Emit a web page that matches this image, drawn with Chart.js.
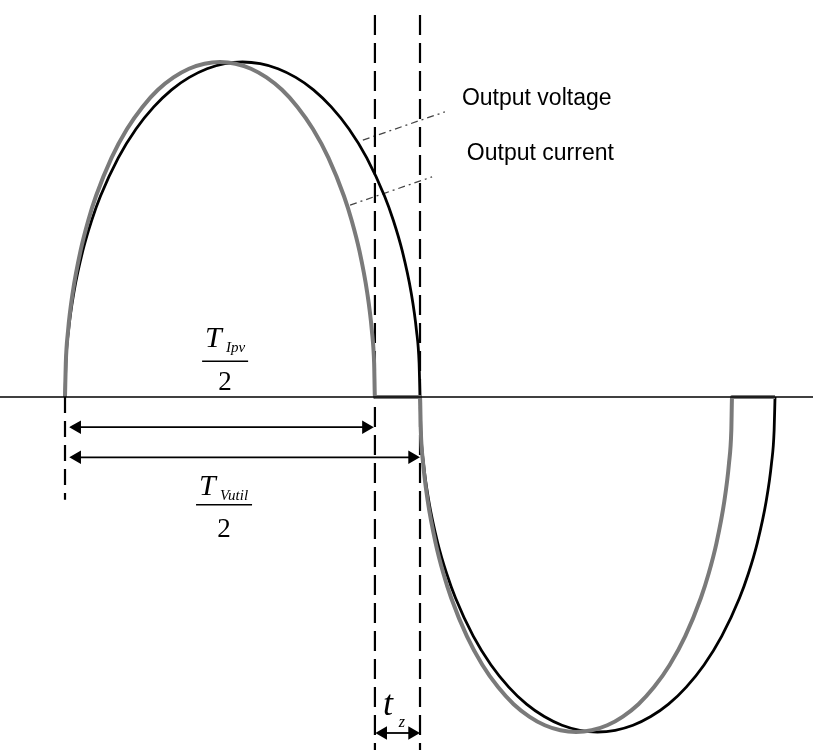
<!DOCTYPE html>
<html>
<head>
<meta charset="utf-8">
<script src="https://cdn.jsdelivr.net/npm/chart.js@4/dist/chart.umd.min.js"></script>
<style>
html,body{margin:0;padding:0;background:#fff;}
#wrap{width:813px;height:755px;}
</style>
</head>
<body>
<div id="wrap"><canvas id="c" width="813" height="755"></canvas></div>
<script>
// ---- time (normalised: voltage half period = 10) ----
const voltageTime = [0,0.025,0.1,0.25,0.5,0.75,1,1.5,2,2.5,3,3.5,4,4.5,5,5.5,6,6.5,7,7.5,8,8.5,9,9.25,9.5,9.75,9.9,9.975,
  10,10.025,10.1,10.25,10.5,10.75,11,11.5,12,12.5,13,13.5,14,14.5,15,15.5,16,16.5,17,17.5,18,18.5,19,19.25,19.5,19.75,19.9,19.975,20];
const voltageValue = [0,0.100,0.199,0.312,0.436,0.527,0.600,0.714,0.800,0.866,0.917,0.954,0.980,0.995,1,0.995,0.980,0.954,0.917,0.866,0.800,0.714,0.600,0.527,0.436,0.312,0.199,0.100,
  0,-0.100,-0.199,-0.312,-0.436,-0.527,-0.600,-0.714,-0.800,-0.866,-0.917,-0.954,-0.980,-0.995,-1,-0.995,-0.980,-0.954,-0.917,-0.866,-0.800,-0.714,-0.600,-0.527,-0.436,-0.312,-0.199,-0.100,0];
const currentTime = [0,0.022,0.087,0.218,0.437,0.655,0.873,1.310,1.746,2.183,2.619,3.056,3.492,3.929,4.365,4.802,5.238,5.675,6.111,6.548,6.984,7.421,7.857,8.075,8.294,8.512,8.643,8.708,8.73,
  10,10.022,10.088,10.220,10.440,10.659,10.879,11.319,11.758,12.198,12.637,13.077,13.516,13.956,14.395,14.835,15.274,15.714,16.153,16.593,17.032,17.472,17.911,18.131,18.351,18.571,18.703,18.769,18.79,20];
const currentValue = [0,0.100,0.199,0.312,0.436,0.527,0.600,0.714,0.800,0.866,0.917,0.954,0.980,0.995,1,0.995,0.980,0.954,0.917,0.866,0.800,0.714,0.600,0.527,0.436,0.312,0.199,0.100,0,
  0,-0.100,-0.199,-0.312,-0.436,-0.527,-0.600,-0.714,-0.800,-0.866,-0.917,-0.954,-0.980,-0.995,-1,-0.995,-0.980,-0.954,-0.917,-0.866,-0.800,-0.714,-0.600,-0.527,-0.436,-0.312,-0.199,-0.100,0,0];

// ---- reference markers (time / value) ----
const halfPeriodCurrent = 8.73;   // T_Ipv / 2
const halfPeriodVoltage = 10;     // T_Vutil / 2
const arrowIpv   = {from:0.34, to:8.48, level:-0.09};
const arrowVutil = {from:0.34, to:9.78, level:-0.18};
const arrowTz    = {from:8.96, to:9.78, level:-1.003};
const voltageLeader = [{x:8.39,y:0.767},{x:10.70,y:0.851}];
const currentLeader = [{x:8.03,y:0.573},{x:10.34,y:0.657}];
const labelTexts = {voltage:'Output voltage', current:'Output current', ipvSub:'Ipv', vutilSub:'Vutil', tz:'t', tzSub:'z'};

const xMin = -1.831, xMax = 21.07, yMin = -1.0687, yMax = 1.1851;

const pts = (xs, ys) => xs.map((x,i)=>({x, y:ys[i]}));
const arrow = a => [{x:a.from,y:a.level},{x:a.to,y:a.level}];

const textPlugin = {
  id:'texts',
  afterDatasetsDraw(chart){
    const ctx = chart.ctx, xs = chart.scales.x, ys = chart.scales.y;
    const px = v => xs.getPixelForValue(v), py = v => ys.getPixelForValue(v);
    ctx.save();
    ctx.fillStyle = '#000'; ctx.strokeStyle = '#000';
    ctx.font = '23px "Liberation Sans", Arial, sans-serif';
    ctx.textBaseline = 'alphabetic'; ctx.textAlign = 'left';
    ctx.fillText(labelTexts.voltage, px(11.18), py(0.872));
    ctx.fillText(labelTexts.current, px(11.32), py(0.707));
    const frac = (cx, ly, sub, tdx, tdy, sdx, sdy, half, twoDy) => {
      ctx.textAlign = 'left';
      ctx.font = 'italic 30px "Liberation Serif", "Times New Roman", serif';
      ctx.fillText('T', cx + tdx, ly + tdy);
      ctx.font = 'italic 15px "Liberation Serif", "Times New Roman", serif';
      ctx.fillText(sub, cx + sdx, ly + sdy);
      ctx.lineWidth = 1.5;
      ctx.beginPath(); ctx.moveTo(cx - half, ly); ctx.lineTo(cx + half, ly); ctx.stroke();
      ctx.textAlign = 'center';
      ctx.font = '27px "Liberation Serif", "Times New Roman", serif';
      ctx.fillText('2', cx, ly + twoDy);
    };
    frac(px(4.51), py(0.107), labelTexts.ipvSub, -20, -14, 1, -9, 23, 29);
    frac(px(4.48), py(-0.322), labelTexts.vutilSub, -25, -10, -4, -5, 28, 32);
    ctx.textAlign = 'left';
    ctx.font = 'italic 36px "Liberation Serif", "Times New Roman", serif';
    ctx.fillText(labelTexts.tz, px(8.96), py(-0.95));
    ctx.font = 'italic 16px "Liberation Serif", "Times New Roman", serif';
    ctx.fillText(labelTexts.tzSub, px(9.4), py(-0.985));
    ctx.restore();
  }
};

const base = {showLine:true, pointRadius:0, pointHoverRadius:0, fill:false, tension:0};
new Chart(document.getElementById('c'), {
  type:'scatter',
  data:{datasets:[
    {...base, data:[{x:xMin,y:0},{x:xMax,y:0}], borderColor:'#000', borderWidth:1.5},
    {...base, data:pts(currentTime,currentValue), borderColor:'#7a7a7a', borderWidth:4, cubicInterpolationMode:'monotone'},
    {...base, data:pts(voltageTime,voltageValue), borderColor:'#000', borderWidth:2.8, cubicInterpolationMode:'monotone'},
    {...base, data:[{x:halfPeriodCurrent,y:1.14},{x:halfPeriodCurrent,y:-1.054}], borderColor:'#000', borderWidth:2.2, borderDash:[20,8]},
    {...base, data:[{x:halfPeriodVoltage,y:1.14},{x:halfPeriodVoltage,y:-1.054}], borderColor:'#000', borderWidth:2.2, borderDash:[20,8]},
    {...base, data:[{x:0,y:0},{x:0,y:-0.307}], borderColor:'#000', borderWidth:2.2, borderDash:[16,8]},
    ...[arrowIpv, arrowVutil, arrowTz].map(a => ({...base, data:arrow(a), borderColor:'#000', borderWidth:1.8,
      pointRadius:6, pointStyle:'triangle', pointRotation:[270,90], pointBackgroundColor:'#000', pointBorderColor:'#000'})),
    {...base, data:voltageLeader, borderColor:'#444', borderWidth:1.3, borderDash:[7,4,2,4]},
    {...base, data:currentLeader, borderColor:'#444', borderWidth:1.3, borderDash:[7,4,2,4]}
  ]},
  options:{
    responsive:false, animation:false,
    layout:{padding:0, autoPadding:false},
    plugins:{legend:{display:false}, tooltip:{enabled:false}},
    scales:{
      x:{type:'linear', min:xMin, max:xMax, display:false},
      y:{type:'linear', min:yMin, max:yMax, display:false}
    }
  },
  plugins:[textPlugin]
});
</script>
</body>
</html>
